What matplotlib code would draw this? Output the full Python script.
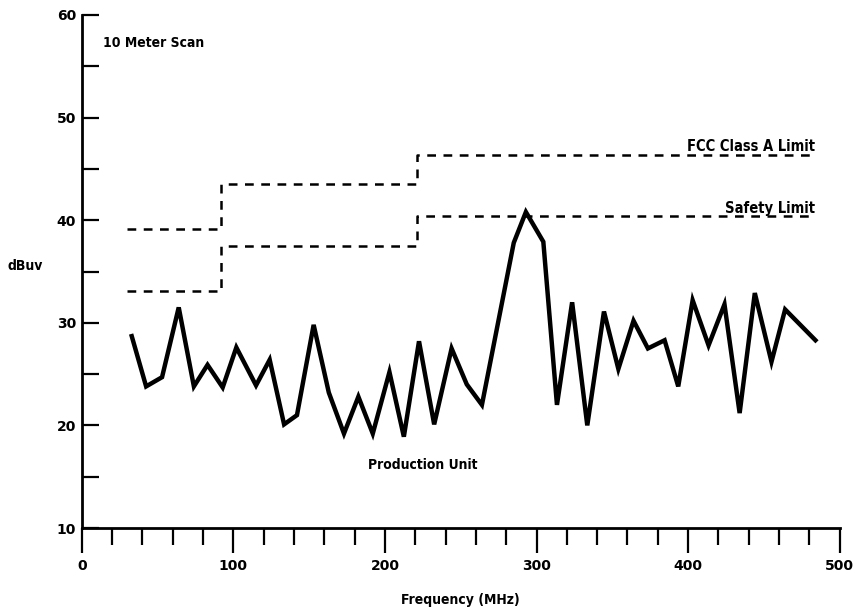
import matplotlib
matplotlib.use("Agg")
import matplotlib.pyplot as plt
from matplotlib.ticker import MultipleLocator

# Data
freq_mhz = [33, 42.5, 53, 64, 74, 83, 93, 102, 115, 124,
            133.5, 142, 153, 163, 173, 182.5, 192, 203, 212.5, 222.5,
            232.5, 244, 254, 264, 285, 293, 304.5, 313.5, 323.5, 333.5,
            344.5, 354, 364, 373.5, 384.5, 393.5, 403, 413.5, 424, 434,
            444, 455, 464, 484]
level_dbuv = [28.7, 23.8, 24.7, 31.5, 23.8, 25.9, 23.7, 27.6, 23.9, 26.4,
              20.1, 21.0, 29.8, 23.2, 19.2, 22.8, 19.2, 25.2, 18.9, 28.2,
              20.1, 27.5, 24.0, 22.0, 37.8, 40.8, 37.9, 22.0, 32.0, 20.0,
              31.1, 25.5, 30.2, 27.5, 28.3, 23.8, 32.2, 27.8, 31.8, 21.2,
              32.9, 26.2, 31.3, 28.3]

limit_freq = [30, 92, 221, 484]
fcc_class_a = [39.1, 43.5, 46.4, 46.4]
safety_limit = [33.1, 37.5, 40.4, 40.4]

x_ticks = [0, 100, 200, 300, 400, 500]
y_ticks = [10, 20, 30, 40, 50, 60]

FONT = dict(family="DejaVu Sans", weight="bold", stretch="condensed")

fig = plt.figure(figsize=(8.56, 6.11), dpi=100)
ax = fig.add_axes([81.7 / 856, 1 - 528 / 611, (839.7 - 81.7) / 856, (528 - 15) / 611])

ax.plot(freq_mhz, level_dbuv, color="black", lw=3.2, solid_joinstyle="miter")
ax.plot(limit_freq, fcc_class_a, color="black", lw=1.8, drawstyle="steps-post",
        dashes=(3.5, 3))
ax.plot(limit_freq, safety_limit, color="black", lw=1.8, drawstyle="steps-post",
        dashes=(3.5, 3))

ax.set_xlim(0, 500)
ax.set_ylim(10, 60)
ax.set_xticks(x_ticks)
ax.set_yticks(y_ticks)
ax.xaxis.set_minor_locator(MultipleLocator(20))
ax.yaxis.set_minor_locator(MultipleLocator(5))

for s in ["top", "right"]:
    ax.spines[s].set_visible(False)
for s in ["left", "bottom"]:
    ax.spines[s].set_linewidth(2.0)

ax.tick_params(axis="x", which="major", direction="out", length=18, width=1.6, pad=4)
ax.tick_params(axis="x", which="minor", direction="out", length=12, width=1.6)
ax.tick_params(axis="y", which="both", direction="in", length=12, width=1.6, pad=4)

for lab in ax.get_xticklabels() + ax.get_yticklabels():
    lab.set_fontfamily("DejaVu Sans")
    lab.set_fontweight("bold")
    lab.set_fontsize(10)

ax.text(14, 57.3, "10 Meter Scan", fontsize=10, va="center", ha="left", **FONT)
ax.text(484, 46.75, "FCC Class A Limit", fontsize=10.5, va="baseline", ha="right", **FONT)
ax.text(484, 40.7, "Safety Limit", fontsize=10.5, va="baseline", ha="right", **FONT)
ax.text(189, 16.1, "Production Unit", fontsize=10, va="center", ha="left", **FONT)

fig.text(8 / 856, 1 - 266 / 611, "dBuv", fontsize=10, va="center", ha="left", **FONT)
fig.text(460 / 856, 1 - 600 / 611, "Frequency (MHz)", fontsize=10, va="center", ha="center", **FONT)

fig.savefig("out.png", dpi=100)
